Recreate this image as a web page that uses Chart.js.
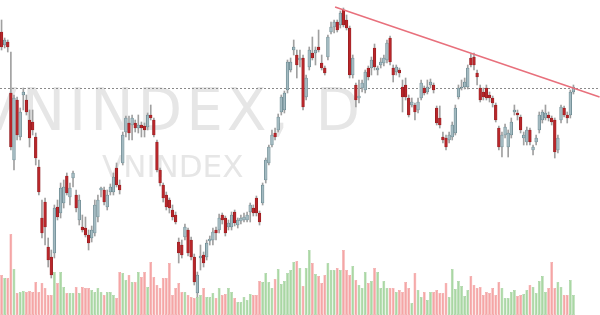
<!DOCTYPE html>
<html><head><meta charset="utf-8">
<script src="https://cdn.jsdelivr.net/npm/chart.js@4.4.0/dist/chart.umd.min.js"></script>
<style>html,body{margin:0;padding:0;background:#fff}#wrap{width:600px;height:315px;position:relative}</style>
</head><body><div id="wrap"><canvas id="c"></canvas></div>
<script>
const opens = [1508,1495,1498,1447,1380,1440,1403,1445,1440,1420,
1418,1403,1373,1322,1338,1293,1283,1287,1333,1327,
1337,1364,1343,1362,1345,1320,1313,1312,1305,1302,
1307,1323,1350,1350,1333,1348,1348,1372,1355,1377,
1408,1417,1415,1417,1412,1415,1414,1413,1425,1420,
1398,1370,1355,1345,1340,1330,1325,1298,1295,1303,
1310,1300,1283,1247,1282,1285,1283,1299,1300,1310,
1310,1325,1322,1313,1313,1328,1315,1319,1320,1320,
1328,1332,1342,1327,1337,1360,1377,1395,1407,1410,
1428,1430,1450,1470,1490,1485,1480,1482,1443,1473,
1487,1487,1493,1477,1472,1483,1508,1513,1518,1515,
1530,1520,1512,1465,1455,1442,1452,1450,1472,1472,
1492,1470,1475,1477,1480,1502,1472,1468,1470,1453,
1455,1442,1435,1435,1430,1442,1452,1448,1455,1455,
1432,1422,1403,1402,1400,1403,1407,1443,1452,1453,
1453,1482,1483,1467,1452,1448,1452,1445,1442,1435,
1412,1393,1405,1393,1405,1428,1427,1423,1402,1398,
1410,1390,1398,1410,1420,1422,1425,1422,1420,1390,
1420,1432,1425,1425,1448];
const closes = [1493,1500,1493,1393,1442,1405,1428,1448,1428,1402,
1410,1382,1348,1307,1313,1280,1265,1332,1323,1352,
1353,1347,1352,1367,1332,1340,1310,1305,1297,1310,
1335,1340,1352,1338,1345,1353,1363,1355,1350,1405,
1422,1407,1422,1412,1415,1412,1410,1425,1422,1405,
1370,1357,1342,1333,1332,1323,1318,1287,1285,1313,
1287,1283,1258,1265,1284,1277,1297,1301,1308,1307,
1322,1320,1307,1317,1325,1317,1320,1322,1323,1325,
1335,1327,1327,1318,1355,1380,1393,1405,1403,1423,
1443,1447,1478,1478,1493,1475,1482,1433,1462,1490,
1482,1490,1490,1472,1467,1503,1513,1518,1510,1527,
1515,1512,1465,1482,1440,1444,1457,1468,1463,1480,
1473,1472,1478,1482,1497,1478,1465,1473,1467,1443,
1443,1425,1438,1428,1438,1457,1447,1453,1458,1450,
1417,1415,1400,1393,1405,1415,1432,1452,1453,1458,
1472,1475,1475,1463,1440,1443,1442,1442,1437,1420,
1393,1405,1413,1407,1418,1430,1425,1410,1405,1410,
1398,1393,1402,1425,1428,1427,1422,1418,1388,1402,
1433,1425,1422,1448,1453];
const highs = [1520,1502,1500,1488,1445,1443,1432,1452,1445,1430,
1430,1407,1380,1340,1342,1302,1290,1335,1340,1357,
1360,1367,1357,1369,1350,1345,1325,1323,1310,1314,
1340,1345,1353,1353,1350,1356,1367,1377,1360,1408,
1424,1424,1425,1420,1425,1418,1417,1427,1435,1422,
1400,1372,1357,1348,1342,1335,1328,1302,1300,1316,
1312,1303,1286,1268,1295,1288,1300,1304,1312,1313,
1326,1327,1324,1320,1328,1330,1322,1325,1327,1328,
1337,1335,1344,1329,1357,1382,1395,1410,1412,1426,
1445,1449,1480,1482,1500,1490,1490,1485,1465,1493,
1503,1493,1510,1485,1474,1505,1518,1520,1520,1529,
1532,1525,1514,1485,1457,1460,1460,1470,1474,1483,
1496,1474,1482,1485,1500,1504,1475,1475,1472,1460,
1462,1445,1442,1437,1442,1460,1454,1460,1461,1457,
1434,1434,1408,1405,1408,1418,1435,1455,1460,1462,
1475,1486,1487,1470,1455,1452,1455,1448,1444,1437,
1414,1408,1416,1410,1422,1435,1430,1425,1408,1413,
1412,1395,1405,1428,1430,1435,1428,1424,1422,1405,
1435,1434,1428,1450,1455];
const lows = [1490,1492,1488,1390,1370,1400,1400,1430,1425,1393,
1405,1375,1345,1302,1295,1273,1262,1282,1320,1322,
1332,1345,1335,1353,1328,1315,1308,1303,1290,1298,
1304,1318,1343,1335,1330,1345,1345,1353,1346,1375,
1403,1400,1400,1408,1407,1403,1403,1410,1420,1403,
1368,1354,1338,1330,1327,1320,1316,1277,1282,1300,
1284,1280,1255,1243,1270,1273,1280,1295,1295,1300,
1307,1316,1304,1310,1310,1314,1312,1316,1318,1318,
1318,1324,1324,1315,1335,1357,1375,1393,1400,1408,
1425,1427,1447,1468,1485,1462,1473,1430,1440,1470,
1480,1475,1488,1470,1465,1480,1506,1507,1508,1512,
1513,1510,1462,1462,1433,1437,1448,1447,1460,1465,
1470,1465,1472,1474,1477,1475,1458,1465,1463,1428,
1440,1423,1433,1420,1427,1440,1445,1446,1452,1447,
1415,1412,1397,1390,1397,1400,1405,1441,1450,1451,
1451,1473,1470,1455,1438,1440,1440,1438,1433,1418,
1390,1383,1402,1383,1402,1425,1420,1407,1395,1395,
1395,1385,1395,1407,1417,1420,1419,1415,1382,1387,
1417,1423,1417,1422,1446];
const volumes = [400,370,370,810,460,220,230,240,230,240,
230,330,230,320,270,200,200,430,320,430,
280,220,220,220,280,220,280,270,270,250,
230,270,230,200,230,230,200,170,430,420,
350,400,330,330,430,380,430,280,530,380,
300,270,370,370,520,200,270,320,230,230,
200,180,170,180,200,
270,180,180,220,170,270,200,210,270,230,
170,130,130,180,150,210,200,200,340,330,
420,330,270,360,460,310,340,420,450,530,
540,470,290,470,650,520,410,390,320,400,
520,450,450,470,450,650,450,400,490,350,
300,270,430,320,340,470,430,270,340,270,
270,270,230,250,
230,330,270,120,420,250,180,230,150,230,
230,250,220,220,320,180,460,260,340,290,
190,250,390,300,270,280,200,230,220,270,
200,330,270,170,170,230,250,190,200,210,
250,300,280,220,340,390,230,270,530,270,
330,280,200,200,350,200];
const labels = opens.map((_, i) => 'D' + (i + 1));
const levelLine = 1452;
const trendIdx = [107.3, 192.4];
const trendPrice = [1533, 1443];
const watermarkMain = 'VNINDEX, D';
const watermarkSub = 'VNINDEX';

const up = closes.map((c, i) => c >= opens[i]);
const wickData = lows.map((l, i) => [l, highs[i]]);
const bodyData = opens.map((o, i) => [Math.min(o, closes[i]), Math.max(o, closes[i])]);

const overlay = {
  id: 'overlay',
  beforeDatasetsDraw(chart) {
    const {ctx, scales: {y}} = chart;
    ctx.save();
    ctx.fillStyle = '#e6e6e6';
    ctx.textBaseline = 'alphabetic';
    ctx.font = '58px "DejaVu Sans"';
    try { ctx.letterSpacing = '4px'; } catch (e) {}
    ctx.fillText(watermarkMain, -22, 130);
    try { ctx.letterSpacing = '0px'; } catch (e) {}
    ctx.font = '31px "DejaVu Sans"';
    ctx.fillText(watermarkSub, 102, 177);
    const ly = Math.round(y.getPixelForValue(levelLine)) + 0.5;
    ctx.strokeStyle = '#8a8a8a';
    ctx.lineWidth = 1;
    ctx.setLineDash([2, 2]);
    ctx.beginPath();
    ctx.moveTo(0, ly);
    ctx.lineTo(chart.width, ly);
    ctx.stroke();
    ctx.restore();
  },
  afterDatasetsDraw(chart) {
    const {ctx, scales: {x, y}} = chart;
    ctx.save();
    ctx.strokeStyle = '#e8707c';
    ctx.lineWidth = 1.5;
    ctx.beginPath();
    ctx.moveTo(x.getPixelForValue(trendIdx[0]), y.getPixelForValue(trendPrice[0]));
    ctx.lineTo(x.getPixelForValue(trendIdx[1]), y.getPixelForValue(trendPrice[1]));
    ctx.stroke();
    ctx.restore();
  }
};

new Chart(document.getElementById('c'), {
  type: 'bar',
  data: {
    labels,
    datasets: [
      {
        label: 'Body', data: bodyData, yAxisID: 'y', grouped: false, order: 1,
        backgroundColor: up.map(u => u ? '#a3bac1' : '#b8262a'),
        borderColor: up.map(u => u ? '#56777f' : '#8c1a1d'),
        borderWidth: 0.6, barThickness: 2.7, borderSkipped: false
      },
      {
        label: 'Wick', data: wickData, yAxisID: 'y', grouped: false, order: 2,
        backgroundColor: '#a0a0a0', borderWidth: 0, barThickness: 1
      },
      {
        label: 'Volume', data: volumes, yAxisID: 'y2', grouped: false, order: 3,
        backgroundColor: up.map(u => u ? '#a9d7a3' : '#f5a5a5'),
        borderColor: up.map(u => u ? '#8fc689' : '#ec8f8f'),
        borderWidth: 0.5, barPercentage: 0.88, categoryPercentage: 1, borderSkipped: false
      }
    ]
  },
  options: {
    responsive: true, maintainAspectRatio: false, animation: false,
    layout: {padding: {left: 0, right: 25, top: 0, bottom: 0}},
    plugins: {legend: {display: false}, tooltip: {enabled: false}},
    scales: {
      x: {display: false, offset: true},
      y: {display: false, min: 1225, max: 1540},
      y2: {display: false, min: 0, max: 3150}
    }
  },
  plugins: [overlay]
});
</script></body></html>
